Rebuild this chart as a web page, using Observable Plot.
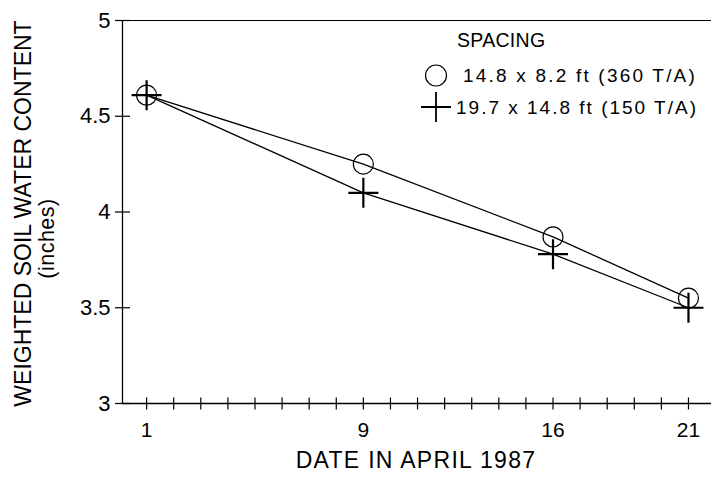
<!DOCTYPE html>
<html>
<head>
<meta charset="utf-8">
<script src="https://cdn.jsdelivr.net/npm/d3@7"></script>
<script src="https://cdn.jsdelivr.net/npm/@observablehq/plot@0.6"></script>
<style>
  html, body { margin: 0; padding: 0; background: #fff; }
  #chart { position: relative; width: 711px; height: 477px; }
  svg { font-family: "Liberation Sans", Arial, Helvetica, sans-serif; }
</style>
</head>
<body>
<div id="chart"></div>
<script>
// ---- data ----
const days = [1, 9, 16, 21];
const spacingDense = [4.61, 4.25, 3.87, 3.55];   // 14.8 x 8.2 ft (360 T/A), circles
const spacingWide  = [4.61, 4.10, 3.78, 3.50];   // 19.7 x 14.8 ft (150 T/A), plus
const xTickLabels = [1, 9, 16, 21];
const xMinorTicks = d3.range(1, 22);
const yTicks = [3, 3.5, 4, 4.5, 5];
const seriesNames = ["14.8 x 8.2 ft (360 T/A)", "19.7 x 14.8 ft (150 T/A)"];
const legendTitle = "SPACING";
const xTitle = "DATE IN APRIL 1987";
const yTitle = "WEIGHTED SOIL WATER CONTENT";
const yUnit = "(inches)";

const rows = [];
days.forEach((d, i) => {
  rows.push({day: d, value: spacingDense[i], series: seriesNames[0]});
  rows.push({day: d, value: spacingWide[i], series: seriesNames[1]});
});
const dense = rows.filter(r => r.series === seriesNames[0]);
const wide = rows.filter(r => r.series === seriesNames[1]);

const xDomain = [0.11, 21.85];
const yDomain = [3, 5];

// custom stroke symbols for crossing tick marks
const vTick = {draw(ctx, size) { const r = Math.sqrt(size / Math.PI); ctx.moveTo(0, -r); ctx.lineTo(0, r); }};
const hTick = {draw(ctx, size) { const r = Math.sqrt(size / Math.PI); ctx.moveTo(-r, 0); ctx.lineTo(r, 0); }};

const plot = Plot.plot({
  width: 711,
  height: 477,
  marginTop: 20,
  marginBottom: 74,
  marginLeft: 122,
  marginRight: 0,
  x: {domain: xDomain, axis: null},
  y: {domain: yDomain, axis: null},
  style: {fontFamily: '"Liberation Sans", Arial, sans-serif', color: "#000", background: "#fff"},
  marks: [
    // frame lines
    Plot.ruleY([yDomain[0]], {stroke: "#000", strokeWidth: 1.3}),
    Plot.ruleY([yDomain[1]], {stroke: "#000", strokeWidth: 1}),
    Plot.ruleX([xDomain[0]], {stroke: "#000", strokeWidth: 1.3}),
    // crossing ticks
    Plot.dot(xMinorTicks, {x: d => d, y: () => yDomain[0], symbol: vTick, r: 6, stroke: "#000", strokeWidth: 1.2, fill: "none"}),
    Plot.dot(yTicks, {x: () => xDomain[0], y: d => d, symbol: hTick, r: 7.5, stroke: "#000", strokeWidth: 1.2, fill: "none"}),
    // tick labels
    Plot.axisX(xTickLabels, {tickSize: 0, tickPadding: 19, fontSize: 21, label: null}),
    Plot.axisY(yTicks, {tickSize: 0, tickPadding: 12, fontSize: 22, label: null, tickFormat: d => String(d)}),
    // axis titles
    Plot.text([xTitle], {frameAnchor: "bottom", textAnchor: "middle", lineAnchor: "middle", dy: 57, dx: -1, fontSize: 23, fill: "#000"}),
    Plot.text([yTitle], {frameAnchor: "left", textAnchor: "middle", lineAnchor: "middle", dx: -99, dy: 1.5, rotate: -90, fontSize: 23, fill: "#000"}),
    Plot.text([yUnit], {frameAnchor: "left", textAnchor: "middle", lineAnchor: "middle", dx: -75, dy: 26.5, rotate: -90, fontSize: 21.5, fill: "#000"}),
    // data
    Plot.line(dense, {x: "day", y: "value", stroke: "#000", strokeWidth: 1.3}),
    Plot.line(wide, {x: "day", y: "value", stroke: "#000", strokeWidth: 1.3}),
    Plot.dot(dense, {x: "day", y: "value", symbol: "circle", r: 10, stroke: "#000", strokeWidth: 1.2, fill: "none"}),
    Plot.dot(wide, {x: "day", y: "value", symbol: "plus", r: 9.7, stroke: "#000", strokeWidth: 2.2})
  ]
});
document.getElementById("chart").appendChild(plot);

// letter-spacing on the titles
d3.select(plot).selectAll("text").filter(function() { return this.textContent === xTitle; })
  .attr("letter-spacing", 1.3);
d3.select(plot).selectAll("text").filter(function() { return this.textContent === yUnit; })
  .attr("letter-spacing", 0.5);

// legend inside the SVG (top right)
const svg = d3.select(plot);
const lg = svg.append("g")
  .attr("font-family", '"Liberation Sans", Arial, sans-serif')
  .attr("text-anchor", "start")
  .attr("fill", "#000");
lg.append("text").attr("x", 457).attr("y", 40).attr("dy", "0.35em").attr("font-size", 19.5)
  .attr("letter-spacing", 0.3).text(legendTitle);
const items = [
  {name: seriesNames[0], y: 75.5, tx: 463, ls: 2.2, sym: d3.symbol(d3.symbolCircle, Math.PI * 10.5 * 10.5), sw: 1.2},
  {name: seriesNames[1], y: 107, tx: 456, ls: 2.0, sym: d3.symbol(d3.symbolPlus, Math.PI * 9.7 * 9.7), sw: 1.8}
];
items.forEach(it => {
  lg.append("path").attr("transform", `translate(436,${it.y})`).attr("d", it.sym())
    .attr("fill", "none").attr("stroke", "#000").attr("stroke-width", it.sw);
  lg.append("text").attr("x", it.tx).attr("y", it.y).attr("dy", "0.35em").attr("font-size", 19)
    .attr("letter-spacing", it.ls).text(it.name);
});
</script>
</body>
</html>
